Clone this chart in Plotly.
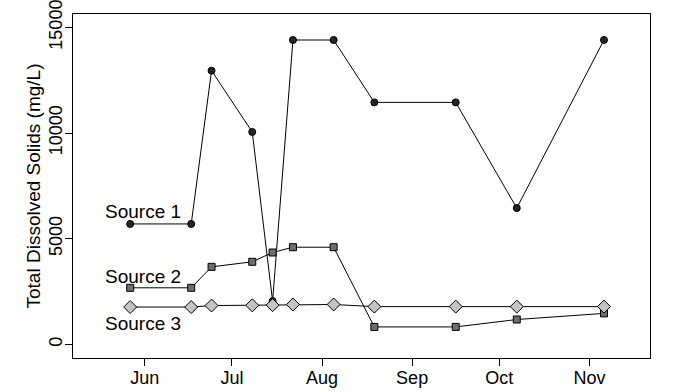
import plotly.graph_objects as go

dates = ["2015-05-27", "2015-06-17", "2015-06-24", "2015-07-08", "2015-07-15",
         "2015-07-22", "2015-08-05", "2015-08-19", "2015-09-16", "2015-10-07", "2015-11-06"]
source1 = [5700, 5700, 12950, 10050, 2050, 14400, 14400, 11450, 11450, 6450, 14400]
source2 = [2680, 2680, 3670, 3910, 4350, 4600, 4600, 830, 830, 1180, 1470]
source3 = [1770, 1770, 1840, 1850, 1860, 1890, 1890, 1790, 1790, 1790, 1790]

series_names = ["Source 1", "Source 2", "Source 3"]
label_x = ["2015-05-31 12:00", "2015-05-31 12:00", "2015-05-31 12:00"]
label_y = [6300, 3230, 1000]

tick_vals = [0, 5000, 10000, 15000]

fig = go.Figure()
styles = [
    dict(symbol="circle", size=7, color="#252525"),
    dict(symbol="square", size=7, color="#6e6e6e"),
    dict(symbol="diamond", size=10, color="#c4c4c4"),
]
for name, vals, st in zip(series_names, [source1, source2, source3], styles):
    fig.add_trace(go.Scatter(
        x=dates, y=vals, mode="lines+markers", name=name,
        line=dict(color="black", width=1),
        marker=dict(symbol=st["symbol"], size=st["size"], color=st["color"],
                    line=dict(color="black", width=1)),
        showlegend=False,
    ))

for name, lx, ly in zip(series_names, label_x, label_y):
    fig.add_annotation(x=lx, y=ly, text=name, showarrow=False,
                       font=dict(size=19, color="black"),
                       xanchor="center", yanchor="middle")

font_family = "Liberation Sans, Arial, sans-serif"
fig.update_layout(
    width=683, height=392,
    margin=dict(l=73, r=33, t=14, b=34),
    plot_bgcolor="white", paper_bgcolor="white",
    font=dict(family=font_family, size=18, color="black"),
    xaxis=dict(
        type="date",
        range=["2015-05-07 08:00", "2015-11-21 20:00"],
        tick0="2015-06-01", dtick="M1", tickformat="%b",
        showgrid=False, zeroline=False, automargin=False,
        showline=True, mirror=True, linecolor="black", linewidth=1,
        ticks="outside", ticklen=7, tickcolor="black", tickwidth=1,
        tickfont=dict(size=18), ticklabeloverflow="allow", ticklabelstandoff=-4,
    ),
    yaxis=dict(
        range=[-640, 15630],
        tickvals=tick_vals, tickformat="d", tickangle=-90,
        showgrid=False, zeroline=False, automargin=False,
        showline=True, mirror=True, linecolor="black", linewidth=1,
        ticks="outside", ticklen=7, tickcolor="black", tickwidth=1,
        tickfont=dict(size=18), ticklabeloverflow="allow", ticklabelstandoff=-4,
        title=dict(text="Total Dissolved Solids (mg/L)", font=dict(size=19), standoff=0),
    ),
)

fig.write_html("out.html", config={"displayModeBar": False},
               post_script="document.body.style.margin='0';document.body.style.overflow='hidden';")
